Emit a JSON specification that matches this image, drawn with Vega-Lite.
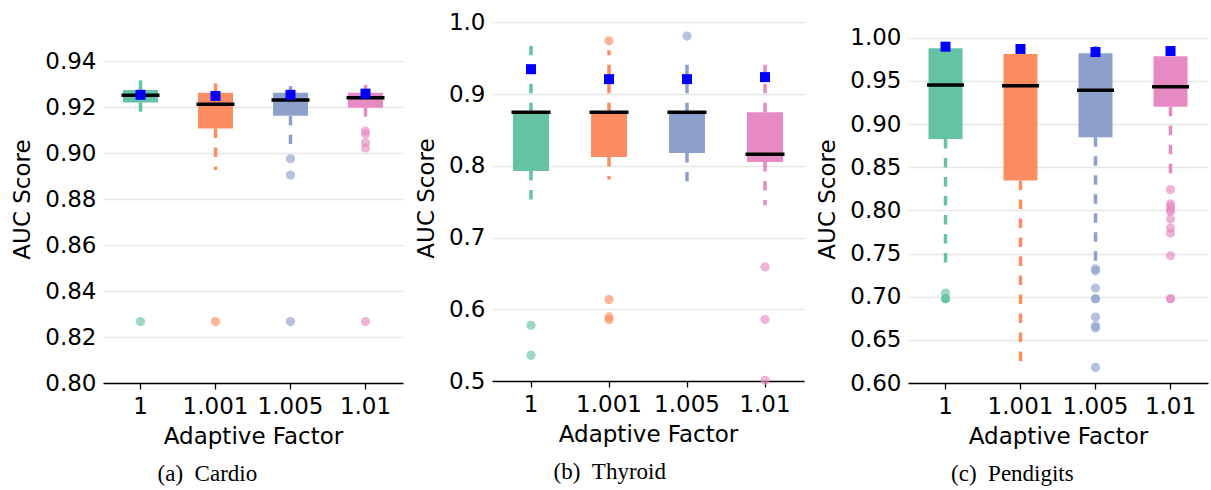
{
  "$schema": "https://vega.github.io/schema/vega-lite/v6.json",
  "padding": {"left": 11, "top": 11, "right": 5, "bottom": 0},
  "datasets": {
    "stats": [
      {"panel": "Cardio", "factor": "1", "lower": 0.9180, "q1": 0.9220, "median": 0.9251, "q3": 0.9274, "upper": 0.9317, "mean": 0.9253},
      {"panel": "Cardio", "factor": "1.001", "lower": 0.8926, "q1": 0.9107, "median": 0.9212, "q3": 0.9262, "upper": 0.9303, "mean": 0.9248},
      {"panel": "Cardio", "factor": "1.005", "lower": 0.9039, "q1": 0.9162, "median": 0.9230, "q3": 0.9262, "upper": 0.9291, "mean": 0.9253},
      {"panel": "Cardio", "factor": "1.01", "lower": 0.9158, "q1": 0.9197, "median": 0.9240, "q3": 0.9262, "upper": 0.9296, "mean": 0.9258},
      {"panel": "Thyroid", "factor": "1", "lower": 0.7516, "q1": 0.7929, "median": 0.8747, "q3": 0.8747, "upper": 0.972, "mean": 0.9347},
      {"panel": "Thyroid", "factor": "1.001", "lower": 0.7809, "q1": 0.8124, "median": 0.8747, "q3": 0.8747, "upper": 0.9612, "mean": 0.9208},
      {"panel": "Thyroid", "factor": "1.005", "lower": 0.7785, "q1": 0.818, "median": 0.8747, "q3": 0.8747, "upper": 0.944, "mean": 0.9208},
      {"panel": "Thyroid", "factor": "1.01", "lower": 0.745, "q1": 0.8054, "median": 0.8162, "q3": 0.8747, "upper": 0.944, "mean": 0.9236},
      {"panel": "Pendigits", "factor": "1", "lower": 0.7389, "q1": 0.8828, "median": 0.9453, "q3": 0.9877, "upper": 0.9877, "mean": 0.9896},
      {"panel": "Pendigits", "factor": "1.001", "lower": 0.6238, "q1": 0.8345, "median": 0.9444, "q3": 0.9811, "upper": 0.9811, "mean": 0.9869},
      {"panel": "Pendigits", "factor": "1.005", "lower": 0.7407, "q1": 0.8847, "median": 0.9391, "q3": 0.9819, "upper": 0.9904, "mean": 0.9834},
      {"panel": "Pendigits", "factor": "1.01", "lower": 0.843, "q1": 0.9201, "median": 0.9433, "q3": 0.9785, "upper": 0.9785, "mean": 0.9846}
    ],
    "outliers": [
      {"panel": "Cardio", "factor": "1", "value": 0.8267},
      {"panel": "Cardio", "factor": "1.001", "value": 0.8267},
      {"panel": "Cardio", "factor": "1.005", "value": 0.8975},
      {"panel": "Cardio", "factor": "1.005", "value": 0.8904},
      {"panel": "Cardio", "factor": "1.005", "value": 0.8267},
      {"panel": "Cardio", "factor": "1.01", "value": 0.9095},
      {"panel": "Cardio", "factor": "1.01", "value": 0.9083},
      {"panel": "Cardio", "factor": "1.01", "value": 0.9045},
      {"panel": "Cardio", "factor": "1.01", "value": 0.9022},
      {"panel": "Cardio", "factor": "1.01", "value": 0.8267},
      {"panel": "Thyroid", "factor": "1", "value": 0.5777},
      {"panel": "Thyroid", "factor": "1", "value": 0.5358},
      {"panel": "Thyroid", "factor": "1.001", "value": 0.9742},
      {"panel": "Thyroid", "factor": "1.001", "value": 0.6135},
      {"panel": "Thyroid", "factor": "1.001", "value": 0.5893},
      {"panel": "Thyroid", "factor": "1.001", "value": 0.5856},
      {"panel": "Thyroid", "factor": "1.005", "value": 0.9808},
      {"panel": "Thyroid", "factor": "1.01", "value": 0.659},
      {"panel": "Thyroid", "factor": "1.01", "value": 0.5856},
      {"panel": "Thyroid", "factor": "1.01", "value": 0.501},
      {"panel": "Pendigits", "factor": "1", "value": 0.7042},
      {"panel": "Pendigits", "factor": "1", "value": 0.6976},
      {"panel": "Pendigits", "factor": "1", "value": 0.6976},
      {"panel": "Pendigits", "factor": "1", "value": 0.6976},
      {"panel": "Pendigits", "factor": "1.005", "value": 0.7323},
      {"panel": "Pendigits", "factor": "1.005", "value": 0.7300},
      {"panel": "Pendigits", "factor": "1.005", "value": 0.7100},
      {"panel": "Pendigits", "factor": "1.005", "value": 0.6976},
      {"panel": "Pendigits", "factor": "1.005", "value": 0.6976},
      {"panel": "Pendigits", "factor": "1.005", "value": 0.6764},
      {"panel": "Pendigits", "factor": "1.005", "value": 0.6663},
      {"panel": "Pendigits", "factor": "1.005", "value": 0.6637},
      {"panel": "Pendigits", "factor": "1.005", "value": 0.6181},
      {"panel": "Pendigits", "factor": "1.01", "value": 0.824},
      {"panel": "Pendigits", "factor": "1.01", "value": 0.8075},
      {"panel": "Pendigits", "factor": "1.01", "value": 0.805},
      {"panel": "Pendigits", "factor": "1.01", "value": 0.8006},
      {"panel": "Pendigits", "factor": "1.01", "value": 0.7986},
      {"panel": "Pendigits", "factor": "1.01", "value": 0.790},
      {"panel": "Pendigits", "factor": "1.01", "value": 0.7795},
      {"panel": "Pendigits", "factor": "1.01", "value": 0.7736},
      {"panel": "Pendigits", "factor": "1.01", "value": 0.7473},
      {"panel": "Pendigits", "factor": "1.01", "value": 0.6976},
      {"panel": "Pendigits", "factor": "1.01", "value": 0.6976}
    ]
  },
  "spacing": 12,
  "hconcat": [
    {
      "width": 300,
      "height": 368,
      "title": {"text": "(a)\u00a0\u00a0Cardio"},
      "encoding": {
        "x": {"field": "factor", "type": "nominal", "sort": ["1", "1.001", "1.005", "1.01"], "scale": {"paddingInner": 0, "paddingOuter": 0}, "title": "Adaptive Factor"},
        "color": {"field": "factor", "type": "nominal", "scale": {"domain": ["1", "1.001", "1.005", "1.01"], "range": ["#66c2a5", "#fc8d62", "#8da0cb", "#e78ac3"]}, "legend": null}
      },
      "layer": [
        {"data": {"name": "stats"}, "transform": [{"filter": "datum.panel === 'Cardio'"}], "mark": {"type": "rule", "strokeDash": [9.5, 9.5], "strokeWidth": 3.5}, "encoding": {"y": {"field": "q1", "type": "quantitative", "title": "AUC Score", "scale": {"domain": [0.8, 0.96], "nice": false, "zero": false}, "axis": {"values": [0.80, 0.82, 0.84, 0.86, 0.88, 0.90, 0.92, 0.94], "format": ".2f"}}, "y2": {"field": "lower"}}},
        {"data": {"name": "stats"}, "transform": [{"filter": "datum.panel === 'Cardio'"}], "mark": {"type": "rule", "strokeDash": [9.5, 9.5], "strokeWidth": 3.5}, "encoding": {"y": {"field": "q3", "type": "quantitative", "title": "AUC Score", "scale": {"domain": [0.8, 0.96], "nice": false, "zero": false}}, "y2": {"field": "upper"}}},
        {"data": {"name": "stats"}, "transform": [{"filter": "datum.panel === 'Cardio'"}], "mark": {"type": "bar", "width": 35, "opacity": 1}, "encoding": {"y": {"field": "q1", "type": "quantitative", "title": "AUC Score", "scale": {"domain": [0.8, 0.96], "nice": false, "zero": false}}, "y2": {"field": "q3"}}},
        {"data": {"name": "stats"}, "transform": [{"filter": "datum.panel === 'Cardio'"}], "mark": {"type": "tick", "size": 38, "thickness": 3.5, "opacity": 1}, "encoding": {"y": {"field": "median", "type": "quantitative", "title": "AUC Score", "scale": {"domain": [0.8, 0.96], "nice": false, "zero": false}}, "color": {"value": "black"}}},
        {"data": {"name": "outliers"}, "transform": [{"filter": "datum.panel === 'Cardio'"}], "mark": {"type": "point", "filled": true, "opacity": 0.65, "size": 85}, "encoding": {"y": {"field": "value", "type": "quantitative", "title": "AUC Score", "scale": {"domain": [0.8, 0.96], "nice": false, "zero": false}}}},
        {"data": {"name": "stats"}, "transform": [{"filter": "datum.panel === 'Cardio'"}], "mark": {"type": "point", "shape": "square", "filled": true, "opacity": 1, "size": 100}, "encoding": {"y": {"field": "mean", "type": "quantitative", "title": "AUC Score", "scale": {"domain": [0.8, 0.96], "nice": false, "zero": false}}, "color": {"value": "#0000ff"}}}
      ]
    },
    {
      "width": 312,
      "height": 366,
      "title": {"text": "(b)\u00a0\u00a0Thyroid"},
      "encoding": {
        "x": {"field": "factor", "type": "nominal", "sort": ["1", "1.001", "1.005", "1.01"], "scale": {"paddingInner": 0, "paddingOuter": 0}, "title": "Adaptive Factor"},
        "color": {"field": "factor", "type": "nominal", "scale": {"domain": ["1", "1.001", "1.005", "1.01"], "range": ["#66c2a5", "#fc8d62", "#8da0cb", "#e78ac3"]}, "legend": null}
      },
      "layer": [
        {"data": {"name": "stats"}, "transform": [{"filter": "datum.panel === 'Thyroid'"}], "mark": {"type": "rule", "strokeDash": [9.5, 9.5], "strokeWidth": 3.5}, "encoding": {"y": {"field": "q1", "type": "quantitative", "title": "AUC Score", "scale": {"domain": [0.5, 1.0102], "nice": false, "zero": false}, "axis": {"values": [0.5, 0.6, 0.7, 0.8, 0.9, 1.0], "format": ".1f"}}, "y2": {"field": "lower"}}},
        {"data": {"name": "stats"}, "transform": [{"filter": "datum.panel === 'Thyroid'"}], "mark": {"type": "rule", "strokeDash": [9.5, 9.5], "strokeWidth": 3.5}, "encoding": {"y": {"field": "q3", "type": "quantitative", "title": "AUC Score", "scale": {"domain": [0.5, 1.0102], "nice": false, "zero": false}}, "y2": {"field": "upper"}}},
        {"data": {"name": "stats"}, "transform": [{"filter": "datum.panel === 'Thyroid'"}], "mark": {"type": "bar", "width": 36, "opacity": 1}, "encoding": {"y": {"field": "q1", "type": "quantitative", "title": "AUC Score", "scale": {"domain": [0.5, 1.0102], "nice": false, "zero": false}}, "y2": {"field": "q3"}}},
        {"data": {"name": "stats"}, "transform": [{"filter": "datum.panel === 'Thyroid'"}], "mark": {"type": "tick", "size": 39, "thickness": 3.5, "opacity": 1}, "encoding": {"y": {"field": "median", "type": "quantitative", "title": "AUC Score", "scale": {"domain": [0.5, 1.0102], "nice": false, "zero": false}}, "color": {"value": "black"}}},
        {"data": {"name": "outliers"}, "transform": [{"filter": "datum.panel === 'Thyroid'"}], "mark": {"type": "point", "filled": true, "opacity": 0.65, "size": 85}, "encoding": {"y": {"field": "value", "type": "quantitative", "title": "AUC Score", "scale": {"domain": [0.5, 1.0102], "nice": false, "zero": false}}}},
        {"data": {"name": "stats"}, "transform": [{"filter": "datum.panel === 'Thyroid'"}], "mark": {"type": "point", "shape": "square", "filled": true, "opacity": 1, "size": 100}, "encoding": {"y": {"field": "mean", "type": "quantitative", "title": "AUC Score", "scale": {"domain": [0.5, 1.0102], "nice": false, "zero": false}}, "color": {"value": "#0000ff"}}}
      ]
    },
    {
      "width": 300,
      "height": 368,
      "title": {"text": "(c)\u00a0\u00a0Pendigits"},
      "encoding": {
        "x": {"field": "factor", "type": "nominal", "sort": ["1", "1.001", "1.005", "1.01"], "scale": {"paddingInner": 0, "paddingOuter": 0}, "title": "Adaptive Factor"},
        "color": {"field": "factor", "type": "nominal", "scale": {"domain": ["1", "1.001", "1.005", "1.01"], "range": ["#66c2a5", "#fc8d62", "#8da0cb", "#e78ac3"]}, "legend": null}
      },
      "layer": [
        {"data": {"name": "stats"}, "transform": [{"filter": "datum.panel === 'Pendigits'"}], "mark": {"type": "rule", "strokeDash": [9.5, 9.5], "strokeWidth": 3.5}, "encoding": {"y": {"field": "q1", "type": "quantitative", "title": "AUC Score", "scale": {"domain": [0.6, 1.0263], "nice": false, "zero": false}, "axis": {"values": [0.60, 0.65, 0.70, 0.75, 0.80, 0.85, 0.90, 0.95, 1.00], "format": ".2f"}}, "y2": {"field": "lower"}}},
        {"data": {"name": "stats"}, "transform": [{"filter": "datum.panel === 'Pendigits'"}], "mark": {"type": "rule", "strokeDash": [9.5, 9.5], "strokeWidth": 3.5}, "encoding": {"y": {"field": "q3", "type": "quantitative", "title": "AUC Score", "scale": {"domain": [0.6, 1.0263], "nice": false, "zero": false}}, "y2": {"field": "upper"}}},
        {"data": {"name": "stats"}, "transform": [{"filter": "datum.panel === 'Pendigits'"}], "mark": {"type": "bar", "width": 34, "opacity": 1}, "encoding": {"y": {"field": "q1", "type": "quantitative", "title": "AUC Score", "scale": {"domain": [0.6, 1.0263], "nice": false, "zero": false}}, "y2": {"field": "q3"}}},
        {"data": {"name": "stats"}, "transform": [{"filter": "datum.panel === 'Pendigits'"}], "mark": {"type": "tick", "size": 37, "thickness": 3.5, "opacity": 1}, "encoding": {"y": {"field": "median", "type": "quantitative", "title": "AUC Score", "scale": {"domain": [0.6, 1.0263], "nice": false, "zero": false}}, "color": {"value": "black"}}},
        {"data": {"name": "outliers"}, "transform": [{"filter": "datum.panel === 'Pendigits'"}], "mark": {"type": "point", "filled": true, "opacity": 0.65, "size": 85}, "encoding": {"y": {"field": "value", "type": "quantitative", "title": "AUC Score", "scale": {"domain": [0.6, 1.0263], "nice": false, "zero": false}}}},
        {"data": {"name": "stats"}, "transform": [{"filter": "datum.panel === 'Pendigits'"}], "mark": {"type": "point", "shape": "square", "filled": true, "opacity": 1, "size": 100}, "encoding": {"y": {"field": "mean", "type": "quantitative", "title": "AUC Score", "scale": {"domain": [0.6, 1.0263], "nice": false, "zero": false}}, "color": {"value": "#0000ff"}}}
      ]
    }
  ],
  "config": {
    "view": {"stroke": null},
    "font": "DejaVu Sans",
    "axis": {"labelFont": "DejaVu Sans", "titleFont": "DejaVu Sans", "labelFontSize": 23, "titleFontSize": 23, "titleFontWeight": "normal", "labelColor": "black", "titleColor": "black"},
    "axisX": {"domainColor": "black", "domainWidth": 1.5, "tickColor": "black", "tickWidth": 1.3, "tickSize": 6, "labelPadding": 6, "titlePadding": 7, "grid": false, "labelAngle": 0},
    "axisY": {"domain": false, "ticks": false, "labelPadding": 7, "titlePadding": 10, "gridColor": "#e6e6e6", "gridWidth": 1.6},
    "title": {"orient": "bottom", "anchor": "middle", "frame": "bounds", "font": "Liberation Serif", "fontSize": 23, "fontWeight": "normal", "color": "black", "offset": 15, "baseline": "top"}
  }
}
